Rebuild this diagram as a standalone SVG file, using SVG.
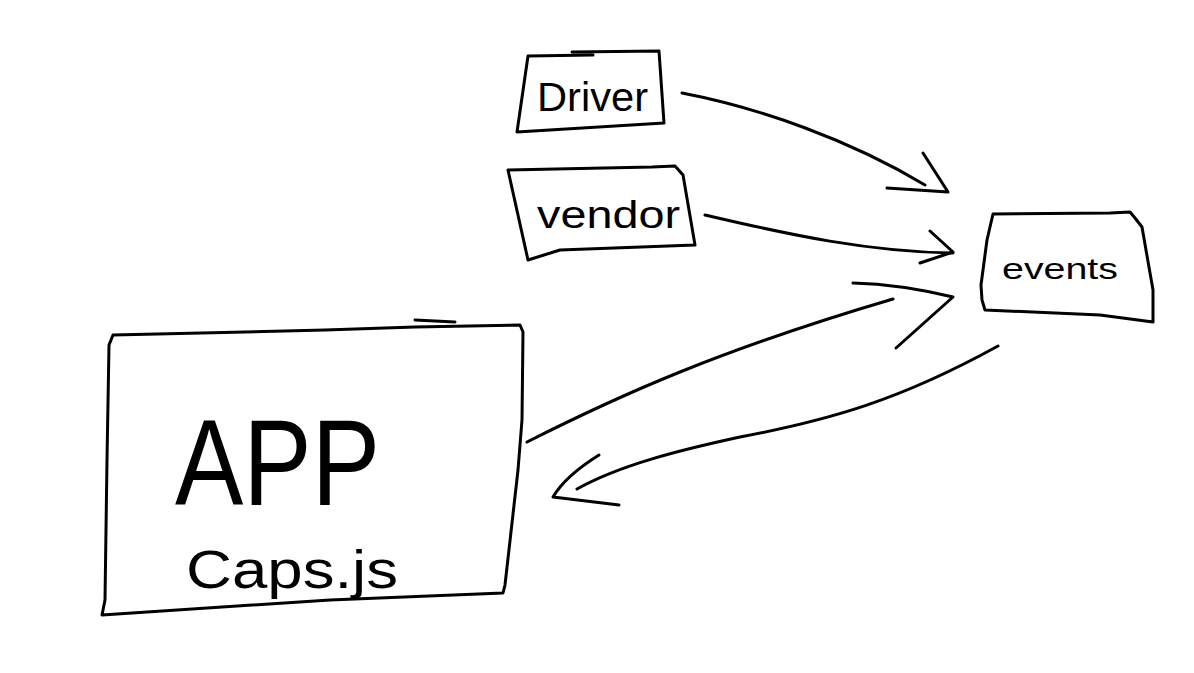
<svg xmlns="http://www.w3.org/2000/svg" width="1194" height="673" viewBox="0 0 1194 673">
<style>
.s{fill:none;stroke:#000;stroke-width:3;stroke-linecap:round;stroke-linejoin:round}
.t{font-family:"Liberation Sans","DejaVu Sans",sans-serif;fill:#000;font-weight:normal}
</style>
<rect width="1194" height="673" fill="#fff"/>
<g id="node-driver">
<path class="s" d="M528,56 L593,55 M572,52 L659,51 L664,123 L517,132 L528,56"/>
<text class="t" x="537" y="111" font-size="40" textLength="111" lengthAdjust="spacingAndGlyphs">Driver</text>
</g>
<g id="node-vendor">
<path class="s" d="M508,170 L652,167 L675,166 L683,175 L695,245 L560,250 L528,260 L508,170"/>
<text class="t" x="537" y="228" font-size="38" textLength="143" lengthAdjust="spacingAndGlyphs">vendor</text>
</g>
<g id="node-events">
<path class="s" d="M993,214 L1110,213 L1130,212 L1135,218 L1142,227 L1146,250 L1153,290 L1153,322 L1100,315 L985,310 L982,300 L981,285 L987,240 L993,214"/>
<text class="t" x="1002" y="279" font-size="30" textLength="116" lengthAdjust="spacingAndGlyphs">events</text>
</g>
<g id="node-app">
<path class="s" d="M113,335 L325,330 L415,327 L520,325 L523,332 L522,420 L518,470 L505,585 L503,593 L330,600 L102,615 L105,600 L107,460 L109,345 L113,335 M415,320 L455,322"/>
<text class="t" x="175" y="505" font-size="122" textLength="205" lengthAdjust="spacingAndGlyphs">APP</text>
<text class="t" x="186" y="588" font-size="54" textLength="212" lengthAdjust="spacingAndGlyphs">Caps.js</text>
</g>
<g id="connectors">
<path class="s" d="M682,93 C760,108 850,140 925,185"/>
<path class="s" d="M923,153 L948,192 L887,188"/>
<path class="s" d="M705,215 C790,235 870,252 953,253"/>
<path class="s" d="M930,231 L953,252 L920,263"/>
<path class="s" d="M527,442 C620,395 720,350 893,299"/>
<path class="s" d="M853,283 C890,284 920,289 953,297 L896,348"/>
<path class="s" d="M998,346 C900,400 830,420 740,437 C680,450 620,465 577,489"/>
<path class="s" d="M599,455 C575,470 560,485 553,497 L619,505"/>
</g>
</svg>
